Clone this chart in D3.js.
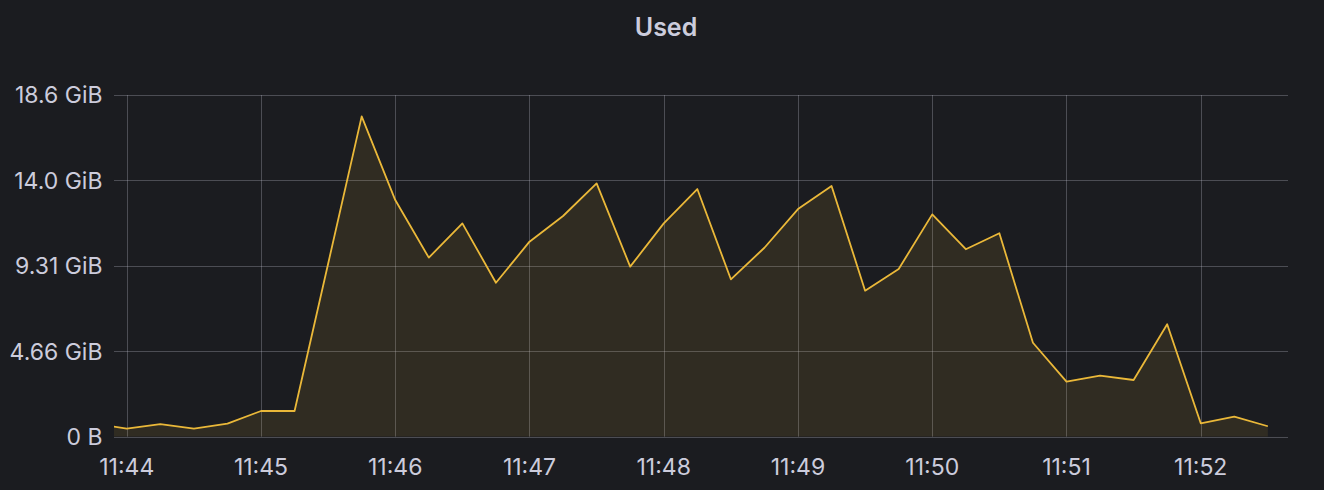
<!DOCTYPE html>
<html>
<head>
<meta charset="utf-8">
<script src="https://cdn.jsdelivr.net/npm/d3@7"></script>
<style>
  html, body { margin: 0; padding: 0; background: #1b1c20; }
  svg { display: block; }
  text { font-family: Inter, "Noto Sans", sans-serif; fill: #ccccdc; }
</style>
</head>
<body>
<svg id="chart" width="1324" height="490"></svg>
<script>
// ---- data ----
const title = "Used";
const times = [
  "11:43:45","11:44:00","11:44:15","11:44:30","11:44:45","11:45:00","11:45:15","11:45:30","11:45:45",
  "11:46:00","11:46:15","11:46:30","11:46:45","11:47:00","11:47:15","11:47:30","11:47:45",
  "11:48:00","11:48:15","11:48:30","11:48:45","11:49:00","11:49:15","11:49:30","11:49:45",
  "11:50:00","11:50:15","11:50:30","11:50:45","11:51:00","11:51:15","11:51:30","11:51:45",
  "11:52:00","11:52:15","11:52:30"
];
const usedGiB = [
  0.72, 0.44, 0.69, 0.44, 0.71, 1.40, 1.40, 9.43, 17.46,
  12.90, 9.76, 11.63, 8.39, 10.63, 12.03, 13.81, 9.27,
  11.63, 13.50, 8.58, 10.30, 12.41, 13.67, 7.96, 9.14,
  12.12, 10.22, 11.09, 5.12, 3.00, 3.33, 3.09, 6.13,
  0.73, 1.09, 0.57
];
const yTickValues = [0, 5e9, 1e10, 1.5e10, 2e10].map(b => b / 1073741824);
const yTickLabels = ["0 B", "4.66 GiB", "9.31 GiB", "14.0 GiB", "18.6 GiB"];
const xTickLabels = ["11:44","11:45","11:46","11:47","11:48","11:49","11:50","11:51","11:52"];
const xDomain = ["11:43:54.3", "11:52:39"];

// ---- setup ----
const parseT = s => {
  const [h, m, sec] = s.split(":").map(Number);
  return new Date(2024, 0, 1, h, m, sec || 0, Math.round(((sec || 0) % 1) * 1000));
};
const data = times.map((t, i) => ({ t: parseT(t), v: usedGiB[i] }));

const svg = d3.select("#chart");
const W = 1324, H = 490;
const m = { left: 114, right: 1288, top: 95, bottom: 436.7 };

svg.append("rect").attr("width", W).attr("height", H).attr("fill", "#1b1c20");

const x = d3.scaleTime().domain(xDomain.map(parseT)).range([m.left, m.right]);
const y = d3.scaleLinear().domain([0, 2e10 / 1073741824]).range([m.bottom, m.top]);

svg.append("text")
  .attr("x", 666).attr("y", 36)
  .attr("text-anchor", "middle")
  .style("font-size", "25px").style("font-weight", 600)
  .text(title);

const defs = svg.append("defs");
defs.append("clipPath").attr("id", "plotclip")
  .append("rect").attr("x", m.left).attr("y", m.top - 5)
  .attr("width", m.right - m.left).attr("height", m.bottom - m.top + 5);

const gridColor = "rgba(204,204,220,0.28)";

// horizontal grid
svg.append("g").selectAll("line").data(yTickValues).join("line")
  .attr("x1", m.left).attr("x2", m.right)
  .attr("y1", d => Math.round(y(d)) + 0.5).attr("y2", d => Math.round(y(d)) + 0.5)
  .attr("stroke", gridColor).attr("stroke-width", 1);

// vertical grid
const xTicks = xTickLabels.map(l => parseT(l + ":00"));
svg.append("g").selectAll("line").data(xTicks).join("line")
  .attr("x1", d => Math.round(x(d)) + 0.5).attr("x2", d => Math.round(x(d)) + 0.5)
  .attr("y1", m.top).attr("y2", m.bottom)
  .attr("stroke", gridColor).attr("stroke-width", 1);

// area + line
const plot = svg.append("g").attr("clip-path", "url(#plotclip)");
plot.append("path").datum(data)
  .attr("d", d3.area().x(d => x(d.t)).y0(y(0)).y1(d => y(d.v)))
  .attr("fill", "#EAB839").attr("fill-opacity", 0.1);
plot.append("path").datum(data)
  .attr("d", d3.line().x(d => x(d.t)).y(d => y(d.v)))
  .attr("fill", "none").attr("stroke", "#EAB839").attr("stroke-width", 1.8)
  .attr("stroke-linejoin", "round");

// y labels
svg.append("g").selectAll("text").data(yTickValues).join("text")
  .attr("x", 102.5).attr("y", d => y(d))
  .attr("dy", "0.36em")
  .attr("text-anchor", "end")
  .style("font-size", "23px")
  .text((d, i) => yTickLabels[i]);

// x labels
svg.append("g").selectAll("text").data(xTicks).join("text")
  .attr("x", d => x(d)).attr("y", 475)
  .attr("text-anchor", "middle")
  .style("font-size", "23px")
  .text((d, i) => xTickLabels[i]);
</script>
</body>
</html>
